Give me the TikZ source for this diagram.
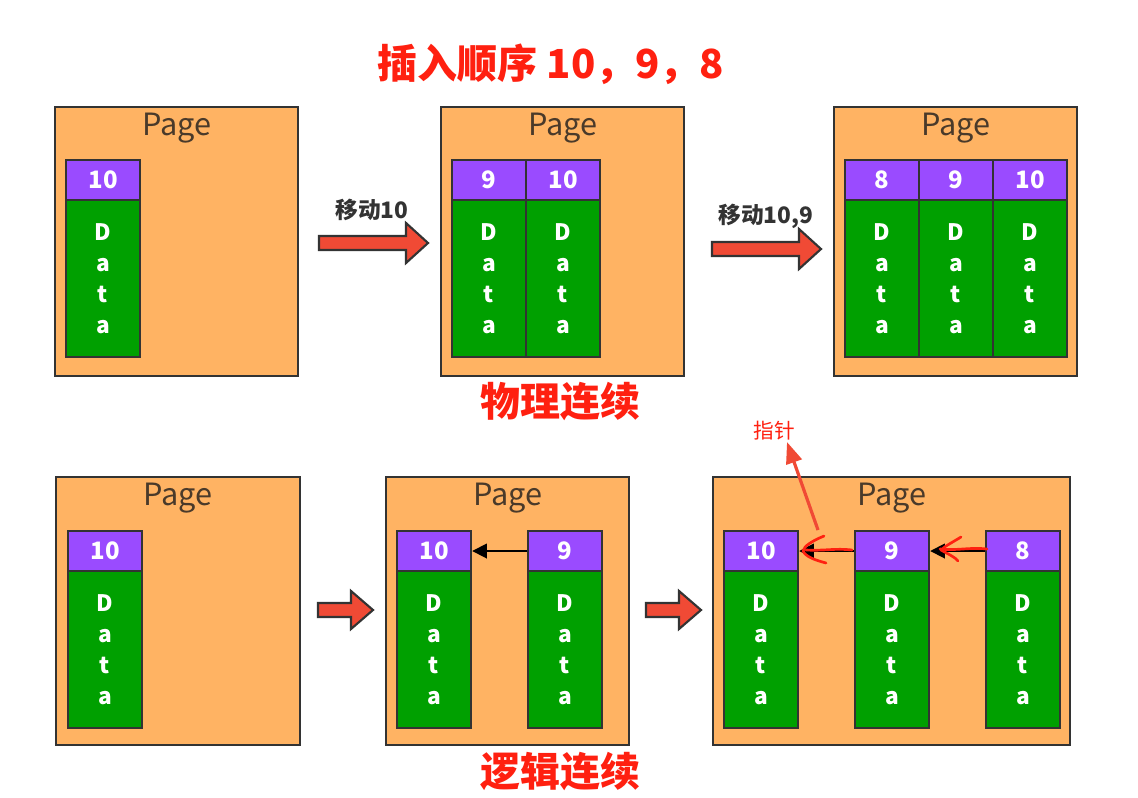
\documentclass[tikz,border=0pt]{standalone}
\usepackage{fontspec}
\setmainfont{Noto Sans CJK SC}
\usetikzlibrary{arrows.meta}
\definecolor{pagefill}{HTML}{FFB363}
\definecolor{hdr}{HTML}{9A4BFF}
\definecolor{dat}{HTML}{00A000}
\definecolor{edge}{HTML}{333333}
\definecolor{pagetxt}{HTML}{4A3A2A}
\definecolor{redtxt}{HTML}{FF2010}
\definecolor{arrred}{HTML}{F04A35}
\tikzset{
  pagebox/.style={draw=edge, line width=2.2pt, fill=pagefill, inner sep=0pt},
  hdrbox/.style={draw=edge, line width=1.8pt, fill=hdr, minimum width=55.5pt, minimum height=30pt, inner sep=0pt, text=white, font=\bfseries\fontsize{18}{18}\selectfont},
  datbox/.style={draw=edge, line width=1.8pt, fill=dat, minimum width=55.5pt, minimum height=117.75pt, inner sep=0pt, text=white, align=center, font=\bfseries\fontsize{17}{23.2}\selectfont},
  pagelbl/.style={text=pagetxt, font=\fontsize{23}{23}\selectfont},
  bigred/.style={text=redtxt, font=\bfseries\fontsize{30}{30}\selectfont},
  movelbl/.style={text=edge, font=\bfseries\fontsize{17}{17}\selectfont},
  blockarrow/.style={draw=edge, line width=1.6pt, fill=arrred, line join=miter},
  ptr/.style={draw=black, line width=1.3pt, -{Triangle[length=11pt,width=11pt]}},
  redmark/.style={draw=redtxt, line width=2pt, line cap=round, line join=round}
}
\newcommand\recd[4]{%
  \node[hdrbox] (#1h) at (#2,#3+20) {#4};
  \node[datbox] (#1d) at (#2,#3+40+78.5) {D\\a\\t\\a};
}
\begin{document}
\begin{tikzpicture}[x=0.75pt,y=-0.75pt]
\useasboundingbox (0,0) rectangle (1138,797);
\fill[white] (0,0) rectangle (1138,797);

% title
\node[bigred] (title) at (551,64) {插入顺序 10，9，8};

% top row pages
\node[pagebox, minimum width=182.25pt, minimum height=201.75pt] (p1) at (176.5,241.5) {};
\node[pagebox, minimum width=182.25pt, minimum height=201.75pt] (p2) at (562.5,241.5) {};
\node[pagebox, minimum width=182.25pt, minimum height=201.75pt] (p3) at (955.5,241.5) {};
\node[pagelbl] (p1l) at (177,128) {Page};
\node[pagelbl] (p2l) at (563,128) {Page};
\node[pagelbl] (p3l) at (956,128) {Page};

\recd{a1}{103}{160}{10}
\recd{b1}{489}{160}{9}
\recd{b2}{563}{160}{10}
\recd{c1}{882}{160}{8}
\recd{c2}{956}{160}{9}
\recd{c3}{1030}{160}{10}

% top arrows
\draw[blockarrow] (319,236) -- (406,236) -- (406,223) -- (428,243) -- (406,263) -- (406,250) -- (319,250) -- cycle;
\node[movelbl] (m1) at (372,210) {移动10};
\draw[blockarrow] (712,242) -- (799,242) -- (799,229) -- (821,249) -- (799,269) -- (799,256) -- (712,256) -- cycle;
\node[movelbl] (m2) at (766,216) {移动10,9};

\node[bigred] (phys) at (560,402) {物理连续};

% bottom row pages
\node[pagebox, minimum width=183pt, minimum height=201pt] (p4) at (178,611) {};
\node[pagebox, minimum width=182.25pt, minimum height=201pt] (p5) at (507.5,611) {};
\node[pagebox, minimum width=267.75pt, minimum height=201pt] (p6) at (891.5,611) {};
\node[pagelbl] (p4l) at (178,498) {Page};
\node[pagelbl] (p5l) at (508,498) {Page};
\node[pagelbl] (p6l) at (892,498) {Page};

\recd{d1}{105}{531}{10}
\recd{e1}{434}{531}{10}
\recd{e2}{565}{531}{9}
\recd{f1}{761}{531}{10}
\recd{f2}{892}{531}{9}
\recd{f3}{1023}{531}{8}

% bottom block arrows
\draw[blockarrow] (318,603) -- (351,603) -- (351,591) -- (373,610) -- (351,629) -- (351,617) -- (318,617) -- cycle;
\draw[blockarrow] (646,603) -- (679,603) -- (679,591) -- (701,610) -- (679,629) -- (679,617) -- (646,617) -- cycle;

% pointers
\draw[ptr] (e2h.west) -- (e1h.east);
\draw[ptr] (f2h.west) -- (f1h.east);
\draw[ptr] (f3h.west) -- (f2h.east);

% red hand marks
\draw[redmark] (852,550) .. controls (835,548) and (825,551) .. (806,550);
\draw[redmark] (824,536) .. controls (812,541) and (804,546) .. (803,551) .. controls (806,557) and (815,560) .. (826,563);
\draw[redmark] (987,549) .. controls (970,547) and (955,551) .. (940,549);
\draw[redmark] (961,537) .. controls (953,542) and (945,546) .. (941,550) .. controls (948,554) and (955,557) .. (958,561);

\node[text=redtxt, font=\fontsize{15.5}{15.5}\selectfont] (zz) at (774,431) {指针};
\coordinate (zs) at (818,530);
\draw[draw=arrred, line width=2.4pt, -{Triangle[length=16pt,width=12pt]}] (zs) -- (787,442);

\node[bigred] (logic) at (560,772) {逻辑连续};
\end{tikzpicture}
\end{document}
